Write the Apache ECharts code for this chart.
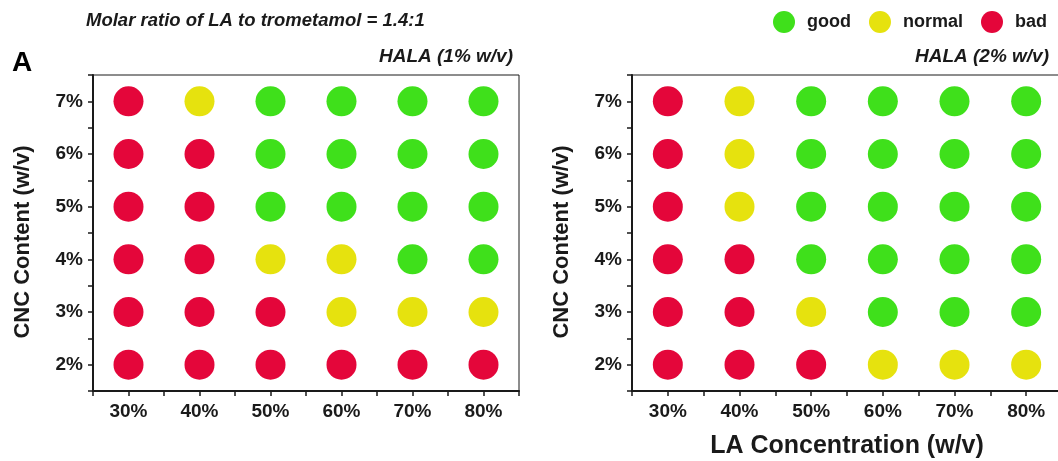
<!DOCTYPE html>
<html>
<head>
<meta charset="utf-8">
<script src="https://cdn.jsdelivr.net/npm/echarts@6/dist/echarts.min.js"></script>
<style>
  html, body { margin: 0; padding: 0; background: #fff; }
  #chart { width: 1058px; height: 461px; }
</style>
</head>
<body>
<div id="chart"></div>
<script>
// LA concentration (x, %) and CNC content (y, %) levels
const laConcentration = [30, 40, 50, 60, 70, 80];
const cncContent = [2, 3, 4, 5, 6, 7];

// Rating per cell, one row per CNC level (2% .. 7%), columns follow laConcentration
const hala1Ratings = [
  ['bad', 'bad', 'bad', 'bad', 'bad', 'bad'],
  ['bad', 'bad', 'bad', 'normal', 'normal', 'normal'],
  ['bad', 'bad', 'normal', 'normal', 'good', 'good'],
  ['bad', 'bad', 'good', 'good', 'good', 'good'],
  ['bad', 'bad', 'good', 'good', 'good', 'good'],
  ['bad', 'normal', 'good', 'good', 'good', 'good']
];
const hala2Ratings = [
  ['bad', 'bad', 'bad', 'normal', 'normal', 'normal'],
  ['bad', 'bad', 'normal', 'good', 'good', 'good'],
  ['bad', 'bad', 'good', 'good', 'good', 'good'],
  ['bad', 'normal', 'good', 'good', 'good', 'good'],
  ['bad', 'normal', 'good', 'good', 'good', 'good'],
  ['bad', 'normal', 'good', 'good', 'good', 'good']
];

const ratingNames = ['good', 'normal', 'bad'];
const ratingColors = ['#3fe01b', '#e6e20e', '#e4063a'];

const FONT = '"Liberation Sans", Arial, sans-serif';
const INK = '#1a1a1a';

function pointsFor(ratings, name) {
  const pts = [];
  ratings.forEach((row, r) => {
    row.forEach((v, c) => {
      if (v === name) pts.push([laConcentration[c], cncContent[r]]);
    });
  });
  return pts;
}

function xAxisFor(gridIndex, withName) {
  return {
    type: 'value', gridIndex, min: 25, max: 85, interval: 5,
    name: withName ? 'LA Concentration (w/v)' : '',
    nameLocation: 'middle', nameGap: 43,
    nameTextStyle: { fontFamily: FONT, fontWeight: 'bold', fontSize: 25, color: INK },
    axisLine: { onZero: false, lineStyle: { color: INK, width: 2 } },
    axisTick: { show: true, length: 5, lineStyle: { color: INK, width: 1.5 } },
    axisLabel: {
      margin: 11, fontFamily: FONT, fontWeight: 'bold', fontSize: 19, color: INK,
      formatter: v => (v % 10 === 0 && v >= 30 && v <= 80) ? v + '%' : ''
    },
    splitLine: { show: false }
  };
}

function yAxisFor(gridIndex) {
  return {
    type: 'value', gridIndex, min: 1.5, max: 7.5, interval: 0.5,
    name: 'CNC Content (w/v)',
    nameLocation: 'middle', nameGap: 59,
    nameTextStyle: { fontFamily: FONT, fontWeight: 'bold', fontSize: 22, color: INK, padding: [0, 18, 0, 0] },
    axisLine: { onZero: false, lineStyle: { color: INK, width: 2 } },
    axisTick: { show: true, length: 5, lineStyle: { color: INK, width: 1.5 } },
    axisLabel: {
      margin: 10, fontFamily: FONT, fontWeight: 'bold', fontSize: 19, color: INK,
      formatter: v => Number.isInteger(v) && v >= 2 && v <= 7 ? v + '%' : ''
    },
    splitLine: { show: false }
  };
}

const series = [];
[hala1Ratings, hala2Ratings].forEach((ratings, gi) => {
  ratingNames.forEach((name, k) => {
    series.push({
      type: 'scatter', name,
      xAxisIndex: gi, yAxisIndex: gi,
      symbol: 'circle', symbolSize: 30,
      itemStyle: { color: ratingColors[k], opacity: 1 },
      data: pointsFor(ratings, name)
    });
  });
});

const chart = echarts.init(document.getElementById('chart'), null, { renderer: 'canvas' });
chart.setOption({
  animation: false,
  backgroundColor: '#fff',
  color: ratingColors,
  legend: {
    data: ratingNames, right: 6, top: 6,
    icon: 'circle', itemWidth: 22, itemHeight: 22, itemGap: 18,
    textStyle: { fontFamily: FONT, fontWeight: 'bold', fontSize: 18, color: INK, padding: [0, 0, 0, 7] }
  },
  title: [
    { text: 'Molar ratio of LA to trometamol = 1.4:1', left: 86, top: 11, padding: 0,
      textStyle: { fontFamily: FONT, fontWeight: 'bold', fontStyle: 'italic', fontSize: 18.5, color: INK } },
    { text: 'A', left: 12, top: 49, padding: 0,
      textStyle: { fontFamily: FONT, fontWeight: 'bold', fontSize: 28, color: '#000' } },
    { text: 'HALA (1% w/v)', right: 545, top: 47, padding: 0,
      textStyle: { fontFamily: FONT, fontWeight: 'bold', fontStyle: 'italic', fontSize: 19, color: INK } },
    { text: 'HALA (2% w/v)', right: 9, top: 47, padding: 0,
      textStyle: { fontFamily: FONT, fontWeight: 'bold', fontStyle: 'italic', fontSize: 19, color: INK } }
  ],
  grid: [
    { left: 93, top: 75, width: 426, height: 316, outerBoundsMode: 'none', containLabel: false,
      show: true, borderColor: INK, borderWidth: 1, backgroundColor: 'transparent' },
    { left: 632, top: 75, width: 430, height: 316, outerBoundsMode: 'none', containLabel: false,
      show: true, borderColor: INK, borderWidth: 1, backgroundColor: 'transparent' }
  ],
  xAxis: [xAxisFor(0, false), xAxisFor(1, true)],
  yAxis: [yAxisFor(0), yAxisFor(1)],
  series
});
</script>
</body>
</html>
